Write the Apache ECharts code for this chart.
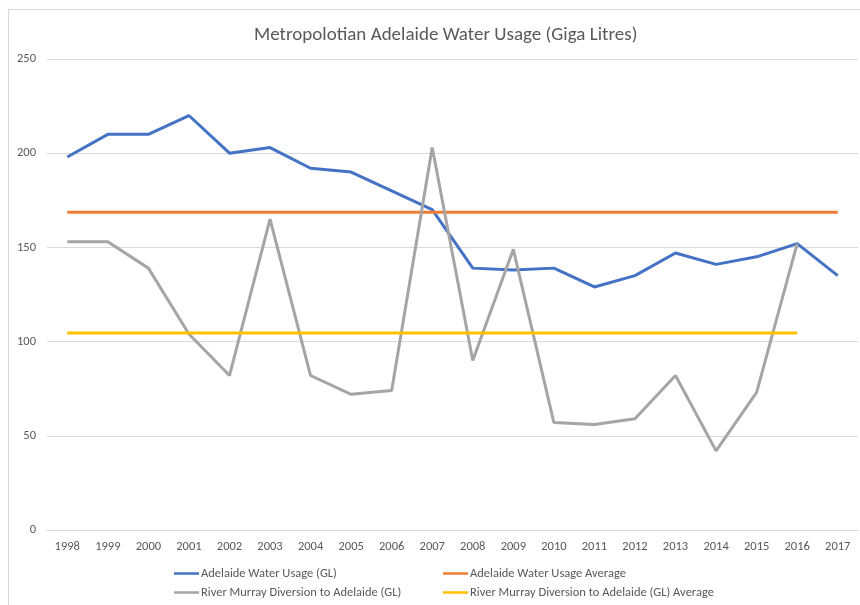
<!DOCTYPE html>
<html>
<head>
<meta charset="utf-8">
<script src="https://cdn.jsdelivr.net/npm/echarts@6/dist/echarts.min.js"></script>
<style>html,body{margin:0;padding:0;background:#fff;}#c{width:860px;height:605px;}</style>
</head>
<body>
<div id="c"></div>
<script>
const years = ['1998','1999','2000','2001','2002','2003','2004','2005','2006','2007','2008','2009','2010','2011','2012','2013','2014','2015','2016','2017'];
const adelaideUsage = [198,210,210,220,200,203,192,190,180,170,139,138,139,129,135,147,141,145,152,135];
const adelaideAvg = [168.7,168.7,168.7,168.7,168.7,168.7,168.7,168.7,168.7,168.7,168.7,168.7,168.7,168.7,168.7,168.7,168.7,168.7,168.7,168.7];
const murrayDiversion = [153,153,139,104,82,165,82,72,74,203,90,149,57,56,59,82,42,73,152,null];
const murrayAvg = [104.6,104.6,104.6,104.6,104.6,104.6,104.6,104.6,104.6,104.6,104.6,104.6,104.6,104.6,104.6,104.6,104.6,104.6,104.6,null];
const yTicks = [0,50,100,150,200,250];
const seriesNames = ['Adelaide Water Usage (GL)', 'Adelaide Water Usage Average', 'River Murray Diversion to Adelaide (GL)', 'River Murray Diversion to Adelaide (GL) Average'];

const font = 'Calibri, Carlito, Lato, "Open Sans", sans-serif';
const chart = echarts.init(document.getElementById('c'));
const lineIcon = 'path://M0,0 L10,0 L10,1 L0,1 Z';
const colors = ['#4472C4', '#ED7D31', '#A5A5A5', '#FFC000'];
const legendPos = [[174, 567], [443, 567], [174, 586], [443, 586]];
const mk = (i, data) => ({
  name: seriesNames[i], type: 'line', data, symbol: 'none', connectNulls: false,
  lineStyle: { color: colors[i], width: 3 }, itemStyle: { color: colors[i] }, animation: false
});
chart.setOption({
  animation: false,
  title: {
    text: 'Metropolotian Adelaide Water Usage (Giga Litres)',
    left: 249, top: 21,
    textStyle: { fontFamily: font, fontSize: 19, fontWeight: 'normal', color: '#595959' }
  },
  graphic: [{
    type: 'rect', shape: { x: 8.5, y: 9.5, width: 900, height: 700 },
    style: { fill: 'none', stroke: '#d9d9d9', lineWidth: 1 }, silent: true, z: -1
  }],
  legend: seriesNames.map((n, i) => ({
    data: [n], left: legendPos[i][0], top: legendPos[i][1], padding: 0,
    icon: lineIcon, itemWidth: 25, itemHeight: 3,
    textStyle: { fontFamily: font, fontSize: 12.5, color: '#595959', padding: [0, 0, 0, -3] }
  })),
  grid: { left: 47, right: 2, top: 59, bottom: 75, containLabel: false },
  xAxis: {
    type: 'category', data: years, boundaryGap: true,
    axisLine: { lineStyle: { color: '#d9d9d9' } },
    axisTick: { show: false },
    axisLabel: { fontFamily: font, fontSize: 12.5, color: '#595959', margin: 10 }
  },
  yAxis: {
    type: 'value', min: yTicks[0], max: yTicks[yTicks.length - 1], interval: 50,
    axisLine: { show: false }, axisTick: { show: false },
    axisLabel: { fontFamily: font, fontSize: 12.5, color: '#595959', margin: 11 },
    splitLine: { lineStyle: { color: '#d9d9d9' } }
  },
  series: [
    mk(0, adelaideUsage),
    mk(1, adelaideAvg),
    mk(2, murrayDiversion),
    mk(3, murrayAvg)
  ]
});
</script>
</body>
</html>
